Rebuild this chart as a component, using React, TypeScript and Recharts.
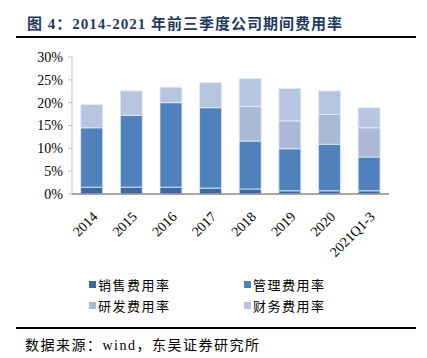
import { BarChart, Bar, XAxis, YAxis } from 'recharts';

const years = ['2014', '2015', '2016', '2017', '2018', '2019', '2020', '2021Q1-3'];
const salesRate = [1.5, 1.5, 1.5, 1.3, 1.1, 0.7, 0.7, 0.7];
const adminRate = [13.0, 15.7, 18.5, 17.6, 10.5, 9.2, 10.2, 7.4];
const rdRate = [0, 0, 0, 0, 7.6, 6.1, 6.5, 6.4];
const financeRate = [5.1, 5.4, 3.4, 5.5, 6.1, 7.1, 5.2, 4.4];
const yTicks = [0, 5, 10, 15, 20, 25, 30];

const series = [
  { key: 'sales', name: '销售费用率', color: '#3f68a1', values: salesRate },
  { key: 'admin', name: '管理费用率', color: '#4f81bd', values: adminRate },
  { key: 'rd', name: '研发费用率', color: '#a9b9d6', values: rdRate },
  { key: 'finance', name: '财务费用率', color: '#b7c6e0', values: financeRate },
];

const data = years.map((year, i) => {
  const row: Record<string, string | number> = { year };
  series.forEach((s) => {
    row[s.key] = s.values[i];
  });
  return row;
});

const serif = '"Liberation Serif", "Times New Roman", "Noto Sans CJK SC", serif';

function XTick({ x, y, payload }: any) {
  return (
    <g transform={`translate(${x + 3},${y + 12})`}>
      <text
        textAnchor="end"
        transform="rotate(-45)"
        fontSize={14}
        fontFamily={serif}
        fill="#000"
        dy={5}
      >
        {payload.value}
      </text>
    </g>
  );
}

export default function App() {
  return (
    <div
      style={{
        position: 'absolute',
        left: 0,
        top: 0,
        width: 427,
        height: 358,
        background: '#fff',
        fontFamily: serif,
      }}
    >
      <div
        style={{
          position: 'absolute',
          left: 27,
          top: 12,
          fontSize: 15,
          fontWeight: 'bold',
          color: '#1f3a60',
          letterSpacing: 1,
          whiteSpace: 'nowrap',
        }}
      >
        图 4：2014-2021 年前三季度公司期间费用率
      </div>
      <div
        style={{
          position: 'absolute',
          left: 16,
          top: 36,
          width: 400,
          height: 2,
          background: '#000',
        }}
      />
      <div style={{ position: 'absolute', left: 0, top: 0 }}>
        <BarChart
          width={427}
          height={262}
          data={data}
          margin={{ top: 57, right: 38, bottom: 0, left: 0 }}
          barCategoryGap="22%"
        >
          <YAxis
            width={72}
            domain={[0, 30]}
            ticks={yTicks}
            interval={0}
            tickFormatter={(v) => `${v}%`}
            axisLine={{ stroke: '#bfbfbf' }}
            tickLine={{ stroke: '#bfbfbf' }}
            tickSize={4}
            tickMargin={5}
            tick={{ fontSize: 14, fontFamily: serif, fill: '#000' }}
          />
          <XAxis
            dataKey="year"
            height={68}
            interval={0}
            axisLine={{ stroke: '#8c8c8c', strokeWidth: 1.5 }}
            tickLine={false}
            tick={<XTick />}
          />
          {series.map((s) => (
            <Bar
              key={s.key}
              dataKey={s.key}
              name={s.name}
              stackId="a"
              fill={s.color}
              stroke="#e6ecf5"
              strokeWidth={0.8}
              isAnimationActive={false}
            />
          ))}
        </BarChart>
      </div>
      {series.map((s, i) => (
        <div
          key={s.key}
          style={{
            position: 'absolute',
            left: i % 2 === 0 ? 89 : 244,
            top: i < 2 ? 275 : 296,
            display: 'flex',
            alignItems: 'center',
            fontSize: 13,
            letterSpacing: 1.5,
            whiteSpace: 'nowrap',
            color: '#000',
          }}
        >
          <span
            style={{
              display: 'inline-block',
              width: 7,
              height: 7,
              background: s.color,
              marginRight: 2,
            }}
          />
          {s.name}
        </div>
      ))}
      <div
        style={{
          position: 'absolute',
          left: 16,
          top: 327,
          width: 400,
          height: 2,
          background: '#000',
        }}
      />
      <div
        style={{
          position: 'absolute',
          left: 25,
          top: 334,
          fontSize: 14,
          letterSpacing: 1.5,
          whiteSpace: 'nowrap',
          color: '#000',
        }}
      >
        数据来源：wind，东吴证券研究所
      </div>
    </div>
  );
}
